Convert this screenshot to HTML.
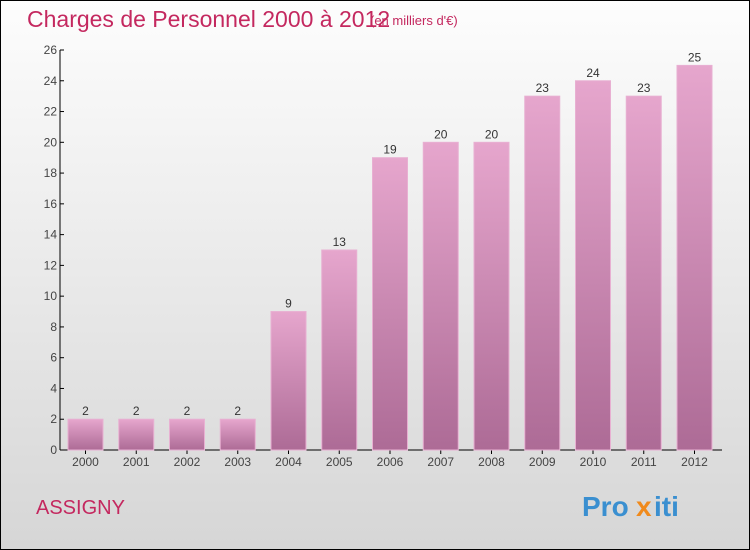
<!DOCTYPE html>
<html><head><meta charset="utf-8"><style>
body{margin:0}
#c{width:750px;height:550px;position:relative;box-sizing:border-box;border:1px solid #000;background:linear-gradient(#fdfdfd,#d6d6d6);font-family:"Liberation Sans",sans-serif;overflow:hidden}
</style></head><body>
<div id="c">
<svg width="750" height="550" style="position:absolute;left:-1px;top:-1px">
<defs><linearGradient id="g" x1="0" y1="0" x2="0" y2="1"><stop offset="0" stop-color="#e6a6cd"/><stop offset="1" stop-color="#ad6b96"/></linearGradient></defs>
<text x="27" y="27" font-size="23" fill="#c4285f">Charges de Personnel 2000 à 2012</text>
<text x="370" y="25" font-size="13" fill="#c4285f">(en milliers d'€)</text>
<text x="36" y="514" font-size="20" fill="#c4285f">ASSIGNY</text>
<g font-size="28" font-weight="bold">
<text x="582" y="516" fill="#3a8fd0">Pro</text><text x="636" y="516" fill="#f08a1c">x</text><text x="654" y="516" fill="#3a8fd0">iti</text></g>
<g id="axes"></g><g id="bars"></g>
</svg>
</div>
<script>
const categories=["2000","2001","2002","2003","2004","2005","2006","2007","2008","2009","2010","2011","2012"];
const values=[2,2,2,2,9,13,19,20,20,23,24,23,25];
const yTicks=[0,2,4,6,8,10,12,14,16,18,20,22,24,26];
const NS="http://www.w3.org/2000/svg";
const x0=60,y0=450,yMax=26,ph=400;
const y=v=>y0-v/yMax*ph;
const x=i=>68+i*50.75;
const bw=35;
function mk(t,a,p){const e=document.createElementNS(NS,t);for(const k in a)e.setAttribute(k,a[k]);p.appendChild(e);return e;}
const ax=document.getElementById('axes'),bg=document.getElementById('bars');
const yl=mk('line',{x1:x0,y1:y(yMax),x2:x0,y2:y0,stroke:'#000'},ax);


const xl=mk('line',{x1:x0,y1:y0,x2:722,y2:y0,stroke:'#000'},ax);


yTicks.forEach(v=>{
 mk('line',{x1:x0,y1:y(v),x2:x0+4,y2:y(v),stroke:'#000'},ax);
 const t=mk('text',{x:x0-3,y:y(v)+4,'font-size':12,fill:'#444','text-anchor':'end'},ax);
 t.textContent=v;
 
 
});
categories.forEach((c,i)=>{
 const cx=x(i)+bw/2;
 mk('line',{x1:cx,y1:y0,x2:cx,y2:y0+4,stroke:'#000'},ax);
 const t=mk('text',{x:cx,y:y0+16,'font-size':12,fill:'#444','text-anchor':'middle'},ax);
 t.textContent=c;
 
 
 const r=mk('rect',{x:x(i),y:y(values[i]),width:bw,height:y0-y(values[i]),fill:'url(#g)',stroke:'#e8b0d2','stroke-width':1},bg);
 
 
 const l=mk('text',{x:cx,y:y(values[i])-4,'font-size':12,fill:'#333','text-anchor':'middle'},bg);
 l.textContent=values[i];
 
 
});
</script>
</body></html>
